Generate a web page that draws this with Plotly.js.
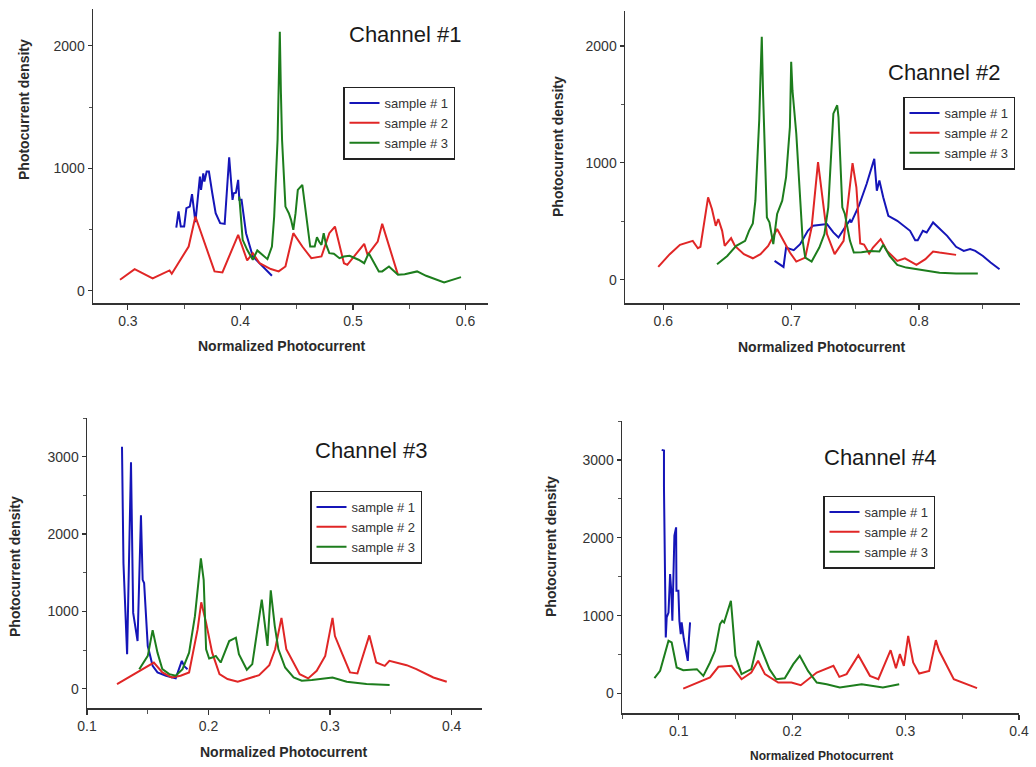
<!DOCTYPE html>
<html>
<head>
<meta charset="utf-8">
<script src="https://cdn.plot.ly/plotly-3.0.1.min.js"></script>
<style>html,body{margin:0;padding:0;background:#fff;}#chart{width:1036px;height:767px;}</style>
</head>
<body>
<div id="chart"></div>
<script>
// ---------- Data ----------
const seriesNames = ["sample # 1", "sample # 2", "sample # 3"];
const channelTitles = ["Channel #1", "Channel #2", "Channel #3", "Channel #4"];
const xTitle = "Normalized Photocurrent";
const yTitle = "Photocurrent density";

// Channel #1
const ch1_s1_x = [0.343,0.345,0.347,0.350,0.352,0.355,0.357,0.358,0.360,0.364,0.365,0.367,0.368,0.370,0.372,0.375,0.378,0.382,0.386,0.390,0.393,0.394,0.396,0.398,0.399,0.401,0.405,0.411,0.420,0.428];
const ch1_s1_y = [516,647,524,524,674,687,788,715,560,932,823,959,891,973,973,796,633,552,546,1090,742,796,801,905,742,742,470,280,198,122];
const ch1_s2_x = [0.293,0.306,0.322,0.337,0.339,0.354,0.360,0.377,0.384,0.398,0.406,0.411,0.417,0.427,0.434,0.440,0.447,0.455,0.463,0.472,0.479,0.484,0.492,0.495,0.510,0.513,0.522,0.526,0.540];
const ch1_s2_y = [90,177,100,166,139,361,606,158,150,456,247,307,225,177,158,198,470,361,266,280,470,524,225,212,383,293,402,546,130];
const ch1_s3_x = [0.399,0.402,0.406,0.411,0.415,0.420,0.424,0.428,0.430,0.433,0.434,0.435,0.436,0.437,0.440,0.443,0.445,0.447,0.449,0.451,0.455,0.458,0.462,0.466,0.468,0.470,0.472,0.474,0.476,0.479,0.483,0.488,0.492,0.497,0.505,0.510,0.514,0.523,0.526,0.532,0.540,0.546,0.557,0.565,0.581,0.596];
const ch1_s3_y = [769,416,334,253,329,293,258,361,606,1231,1693,2114,1611,1231,687,633,579,497,633,823,864,633,361,361,437,400,375,470,380,307,302,266,280,285,253,225,307,158,158,198,130,135,158,122,68,111];

// Channel #2
const ch2_s1_x = [0.687,0.694,0.696,0.702,0.707,0.713,0.717,0.728,0.733,0.737,0.742,0.746,0.747,0.753,0.759,0.765,0.767,0.769,0.772,0.776,0.783,0.788,0.793,0.797,0.799,0.803,0.806,0.811,0.815,0.822,0.829,0.835,0.840,0.844,0.850,0.856,0.863];
const ch2_s1_y = [160,109,275,252,304,418,461,476,404,361,447,510,490,633,819,1034,762,848,705,547,504,461,418,338,338,418,404,490,447,375,281,246,261,246,203,146,89];
const ch2_s2_x = [0.596,0.605,0.613,0.623,0.627,0.629,0.635,0.638,0.641,0.643,0.646,0.648,0.653,0.656,0.663,0.670,0.676,0.682,0.689,0.694,0.699,0.704,0.711,0.716,0.721,0.728,0.734,0.741,0.748,0.751,0.754,0.757,0.761,0.764,0.770,0.775,0.783,0.789,0.798,0.805,0.811,0.816,0.829];
const ch2_s2_y = [109,218,298,332,269,281,705,605,461,519,418,289,355,289,218,183,218,289,433,332,232,155,189,447,1006,390,218,332,997,791,309,300,224,275,347,246,160,183,126,175,241,232,212];
const ch2_s3_x = [0.642,0.650,0.657,0.664,0.667,0.670,0.672,0.674,0.675,0.676,0.677,0.678,0.679,0.681,0.683,0.686,0.689,0.693,0.696,0.699,0.700,0.701,0.704,0.707,0.709,0.711,0.716,0.722,0.726,0.729,0.732,0.733,0.736,0.737,0.740,0.742,0.746,0.749,0.755,0.762,0.769,0.772,0.777,0.783,0.790,0.803,0.816,0.829,0.846];
const ch2_s3_y = [132,203,289,332,418,481,676,1135,1364,1736,2080,1593,1163,533,490,304,562,676,877,1306,1865,1622,1249,676,332,189,155,275,390,619,1192,1421,1493,1392,619,562,332,232,235,246,241,298,203,126,103,80,60,52,52];

// Channel #3
const ch3_s1_x = [0.1288,0.130,0.133,0.1362,0.137,0.138,0.1416,0.1444,0.1458,0.147,0.150,0.154,0.158,0.165,0.173,0.178,0.180,0.1827];
const ch3_s1_y = [3128,1622,445,2927,2050,980,616,2242,1408,1365,552,295,210,167,133,360,290,252];
const ch3_s2_x = [0.1247,0.155,0.162,0.1696,0.177,0.184,0.191,0.194,0.198,0.203,0.209,0.2156,0.224,0.232,0.2416,0.250,0.2548,0.260,0.264,0.275,0.282,0.289,0.296,0.302,0.304,0.3096,0.3164,0.3225,0.3323,0.338,0.345,0.3488,0.355,0.363,0.371,0.385,0.396];
const ch3_s2_y = [60,338,210,145,167,210,766,1117,851,466,188,124,90,133,175,304,509,915,509,188,133,231,424,915,680,466,210,197,689,338,295,360,338,304,252,145,90];
const ch3_s3_x = [0.143,0.150,0.154,0.158,0.162,0.1677,0.173,0.1786,0.184,0.1888,0.1937,0.196,0.198,0.2005,0.203,0.206,0.210,0.217,0.2225,0.225,0.2315,0.236,0.2438,0.2485,0.2512,0.2545,0.2575,0.263,0.270,0.2767,0.285,0.302,0.3137,0.330,0.349];
const ch3_s3_y = [252,424,757,466,252,188,167,252,466,937,1686,1408,509,390,402,424,338,616,659,445,244,317,1151,552,1271,809,509,274,145,103,111,145,90,60,47];

// Channel #4
const ch4_s1_x = [0.085,0.087,0.087,0.0886,0.0894,0.091,0.0924,0.0935,0.0944,0.0953,0.0962,0.0977,0.098,0.0997,0.1006,0.1018,0.1026,0.1045,0.1065,0.108,0.109,0.110];
const ch4_s1_y = [3129,3120,2649,720,977,1041,1534,1300,934,1556,2027,2134,1320,1320,934,763,913,700,549,420,700,913];
const ch4_s2_x = [0.104,0.1173,0.1276,0.135,0.1466,0.1554,0.164,0.170,0.176,0.1877,0.1994,0.2076,0.2217,0.2364,0.2416,0.248,0.2584,0.2686,0.276,0.2868,0.2915,0.295,0.2985,0.3023,0.3067,0.312,0.3208,0.3267,0.3296,0.3425,0.363];
const ch4_s2_y = [64,141,206,343,356,184,270,420,249,141,141,107,270,356,214,249,493,227,184,557,326,506,356,741,399,257,291,686,549,184,69];
const ch4_s3_x = [0.0786,0.0836,0.091,0.0938,0.0982,0.104,0.116,0.1217,0.1276,0.132,0.1364,0.1384,0.140,0.143,0.146,0.147,0.150,0.1554,0.164,0.170,0.1745,0.180,0.186,0.1935,0.201,0.2067,0.214,0.2217,0.2305,0.242,0.2613,0.280,0.2944];
const ch4_s3_y = [197,291,677,656,334,300,313,227,399,549,891,934,913,1063,1191,1020,484,249,313,677,506,313,184,197,377,484,291,141,120,77,120,77,120];

// ---------- Build ----------
const colors = ["#1515b8", "#e02626", "#1d7d1d"];
const FONT = "Liberation Sans, Arial, Helvetica, sans-serif";
const channels = [
  [[ch1_s1_x, ch1_s1_y], [ch1_s2_x, ch1_s2_y], [ch1_s3_x, ch1_s3_y]],
  [[ch2_s1_x, ch2_s1_y], [ch2_s2_x, ch2_s2_y], [ch2_s3_x, ch2_s3_y]],
  [[ch3_s1_x, ch3_s1_y], [ch3_s2_x, ch3_s2_y], [ch3_s3_x, ch3_s3_y]],
  [[ch4_s1_x, ch4_s1_y], [ch4_s2_x, ch4_s2_y], [ch4_s3_x, ch4_s3_y]]
];

const traces = [];
channels.forEach((ch, ci) => {
  const suf = ci === 0 ? "" : String(ci + 1);
  ch.forEach((s, si) => {
    traces.push({
      type: "scatter", mode: "lines",
      x: s[0], y: s[1],
      name: seriesNames[si],
      xaxis: "x" + suf, yaxis: "y" + suf,
      legend: "legend" + suf,
      line: { color: colors[si], width: 2 },
      hoverinfo: "skip"
    });
  });
});

const W = 1036, H = 767;
const px = v => v / W, py = v => 1 - v / H;

// panel geometry in pixels [left, right, top, bottom]
const panels = [
  { box: [93, 488, 9, 303],  xr: [0.269, 0.620], yr: [-100, 2300] },
  { box: [625, 1020, 11, 303], xr: [0.570, 0.879], yr: [-200, 2300] },
  { box: [87, 482, 418, 708], xr: [0.100, 0.425], yr: [-250, 3500] },
  { box: [622, 1019, 421, 713], xr: [0.050, 0.400], yr: [-250, 3500] }
];

const layout = {
  width: W, height: H,
  margin: { l: 0, r: 0, t: 0, b: 0 },
  paper_bgcolor: "#ffffff", plot_bgcolor: "#ffffff",
  font: { family: FONT, color: "#2a2a2a", size: 14 },
  showlegend: true,
  annotations: []
};

panels.forEach((p, i) => {
  const suf = i === 0 ? "" : String(i + 1);
  const ax = {
    domain: [px(p.box[0]), px(p.box[1])],
    range: p.xr, anchor: "y" + suf,
    showgrid: false, zeroline: false,
    showline: true, linecolor: "#333333", linewidth: 1.5,
    ticks: "outside", ticklen: 5, tickwidth: 1.2, tickcolor: "#333333",
    dtick: 0.1, tick0: 0,
    minor: { ticks: "outside", ticklen: 4, tickwidth: 1, tickcolor: "#555555", dtick: 0.05 },
    tickfont: { family: FONT, size: 14, color: "#333333" }
  };
  const ay = {
    domain: [py(p.box[3]), py(p.box[2])],
    range: p.yr, anchor: "x" + suf,
    showgrid: false, zeroline: false,
    showline: true, linecolor: "#333333", linewidth: 1.5,
    ticks: "outside", ticklen: 4, tickwidth: 1.2, tickcolor: "#333333",
    dtick: 1000, tick0: 0,
    minor: { ticks: "outside", ticklen: 3, tickwidth: 1, tickcolor: "#555555", dtick: 500 },
    tickfont: { family: FONT, size: 14, color: "#333333" }
  };
  layout["xaxis" + suf] = ax;
  layout["yaxis" + suf] = ay;
});

// legends, one per panel (left edge, vertical centre in pixels)
const legendPos = [[343, 123], [903, 133], [310, 527], [823, 532]];
legendPos.forEach((lp, i) => {
  const suf = i === 0 ? "" : String(i + 1);
  layout["legend" + suf] = {
    x: px(lp[0]), y: py(lp[1]), xanchor: "left", yanchor: "middle",
    bgcolor: "#ffffff", bordercolor: "#222222", borderwidth: 1.5,
    font: { family: FONT, size: 13, color: "#333333" },
    tracegroupgap: 0, itemwidth: 30
  };
});

// channel titles
const chanPos = [[405, 35], [944, 72], [371, 450], [880, 457]];
chanPos.forEach((cp, i) => {
  layout.annotations.push({
    text: channelTitles[i], xref: "paper", yref: "paper",
    x: px(cp[0]), y: py(cp[1]), xanchor: "center", yanchor: "middle",
    showarrow: false, font: { family: FONT, size: 22, color: "#1a1a1a" }
  });
});

// axis titles
const xTitlePos = [[282, 346, 14], [822, 347, 14], [284, 752, 14], [821, 756, 12]];
xTitlePos.forEach(tp => {
  layout.annotations.push({
    text: "<b>" + xTitle + "</b>", xref: "paper", yref: "paper",
    x: px(tp[0]), y: py(tp[1]), xanchor: "center", yanchor: "middle",
    showarrow: false, font: { family: FONT, size: tp[2], color: "#2a2a2a" }
  });
});
const yTitlePos = [[24, 110], [558, 147], [15, 567], [551, 547]];
yTitlePos.forEach(tp => {
  layout.annotations.push({
    text: "<b>" + yTitle + "</b>", xref: "paper", yref: "paper",
    x: px(tp[0]), y: py(tp[1]), xanchor: "center", yanchor: "middle",
    textangle: -90,
    showarrow: false, font: { family: FONT, size: 14, color: "#2a2a2a" }
  });
});

Plotly.newPlot("chart", traces, layout, { staticPlot: true, displayModeBar: false });
</script>
</body>
</html>
